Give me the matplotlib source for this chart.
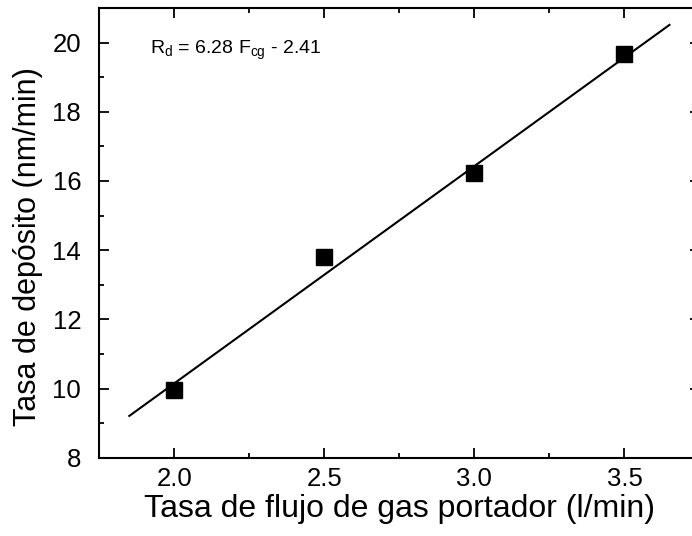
import matplotlib
matplotlib.use("Agg")
import matplotlib.pyplot as plt
import numpy as np
from matplotlib.ticker import MultipleLocator

plt.rcParams['font.family'] = ['Liberation Sans', 'DejaVu Sans']

flow = [2.0, 2.5, 3.0, 3.5]
rate = [9.96, 13.81, 16.22, 19.67]
slope = 6.28
intercept = -2.41
fit_range = [1.85, 3.65]

fig = plt.figure(figsize=(6.92, 5.36), dpi=100)
ax = fig.add_axes([99.3/692, 1 - 457.7/536, (699.5-99.3)/692, (457.7-8)/536])

xf = np.array(fit_range)
ax.plot(xf, slope*xf + intercept, color='black', lw=1.5)
ax.plot(flow, rate, 's', color='black', markersize=12)

ax.set_xlim(1.75, 3.75)
ax.set_ylim(8, 21)
ax.xaxis.set_major_locator(MultipleLocator(0.5))
ax.xaxis.set_minor_locator(MultipleLocator(0.25))
ax.yaxis.set_major_locator(MultipleLocator(2))
ax.yaxis.set_minor_locator(MultipleLocator(1))
ax.set_xticks([2.0, 2.5, 3.0, 3.5])
ax.set_xticklabels(['2.0', '2.5', '3.0', '3.5'])
ax.tick_params(which='both', direction='in', top=True, right=True, width=1.3, labelsize=18.5)
ax.tick_params(axis='x', pad=7)
ax.tick_params(axis='y', pad=13)
ax.tick_params(which='major', length=7)
ax.tick_params(which='minor', length=3.5)
for s in ax.spines.values():
    s.set_linewidth(1.5)

ax.set_xlabel('Tasa de flujo de gas portador (l/min)', fontsize=23, labelpad=2)
ax.set_ylabel('Tasa de depósito (nm/min)', fontsize=22)
ax.yaxis.set_label_coords(-0.094, 0.47)

ax.text(0.085, 0.905, r'R$_\mathregular{d}$ = 6.28 F$_\mathregular{cg}$ - 2.41', transform=ax.transAxes,
        fontsize=14, ha='left', va='center')

fig.savefig('out.png', dpi=100)
